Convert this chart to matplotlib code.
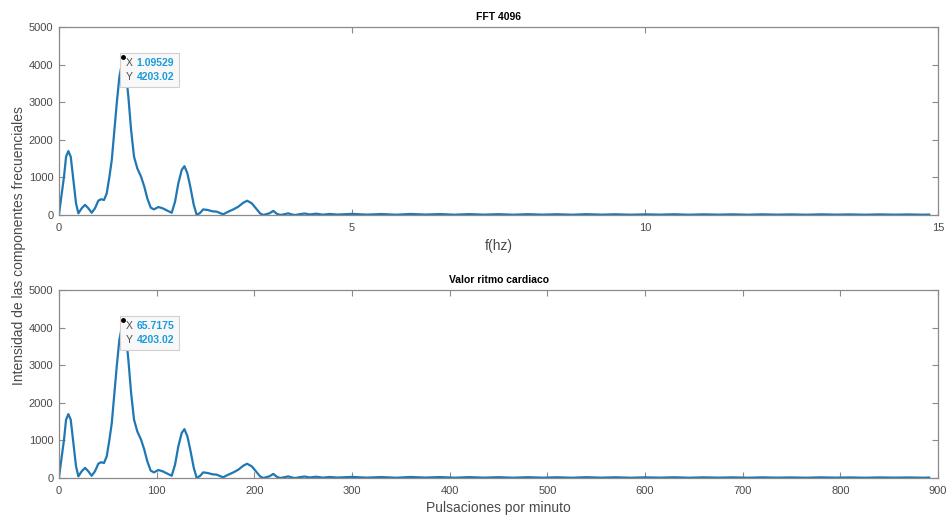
import matplotlib.pyplot as plt
from matplotlib.offsetbox import TextArea, HPacker, VPacker, AnnotationBbox

plt.rcParams['font.family'] = ['Liberation Sans', 'DejaVu Sans']

# espectro (f en Hz, intensidad)
freq_hz = [
    0.0, 0.085, 0.12, 0.159, 0.2, 0.245, 0.29, 0.33, 0.387, 0.444, 0.5, 0.557,
    0.614, 0.67, 0.717, 0.768, 0.814, 0.86, 0.9, 0.94, 0.985, 1.03, 1.09529,
    1.138, 1.183, 1.23, 1.28, 1.336, 1.4, 1.456, 1.507, 1.565, 1.62, 1.695,
    1.77, 1.85, 1.923, 1.98, 2.036, 2.094, 2.14, 2.19, 2.24, 2.3, 2.35, 2.41,
    2.46, 2.54, 2.62, 2.69, 2.8, 2.89, 2.975, 3.06, 3.145, 3.21, 3.29, 3.36,
    3.43, 3.486, 3.59, 3.657, 3.71, 3.77, 3.86, 3.91, 3.97, 4.03, 4.1, 4.19,
    4.28, 4.39, 4.5, 4.62,
    4.75, 5.0, 5.25, 5.5, 5.75, 6.0, 6.25, 6.5, 6.75, 7.0, 7.25, 7.5, 7.75,
    8.0, 8.25, 8.5, 8.75, 9.0, 9.25, 9.5, 9.75, 10.0, 10.25, 10.5, 10.75,
    11.0, 11.25, 11.5, 11.75, 12.0, 12.25, 12.5, 12.75, 13.0, 13.25, 13.5,
    13.75, 14.0, 14.25, 14.5, 14.75, 14.85,
]
intensidad = [
    30, 1020, 1550, 1700, 1550, 930, 310, 45, 180, 270, 180, 60,
    180, 380, 420, 400, 577, 1020, 1460, 2170, 2970, 3680, 4203.02,
    3860, 3150, 2260, 1550, 1240, 1020, 750, 440, 195, 150, 213,
    178, 115, 60, 355, 843, 1200, 1300, 1110, 753, 266, 0, 60,
    150, 133, 98, 90, 19, 90, 150, 222, 328, 380, 310, 178,
    45, 0, 45, 110, 40, 0, 25, 45, 15, 0, 20, 40,
    15, 35, 10, 28,
    12, 30, 10, 26, 8, 28, 12, 25, 8, 24, 10, 22, 8,
    22, 10, 20, 8, 22, 10, 20, 8, 18, 10, 20, 8,
    18, 10, 18, 8, 18, 10, 16, 8, 18, 10, 16,
    8, 16, 10, 15, 8, 12,
]
bpm = [f * 60 for f in freq_hz]

peak_f = 1.09529
peak_bpm = 65.7175
peak_val = 4203.02

LINE = '#1f77b4'
GRIS = '#8a8a8a'
TEXTO = '#4a4a4a'
AZUL_TIP = '#1a9bdc'


def estilo(ax, xlim, xticks):
    ax.set_xlim(*xlim)
    ax.set_ylim(0, 5000)
    ax.set_xticks(xticks)
    ax.set_yticks(range(0, 5001, 1000))
    ax.tick_params(direction='in', length=4, width=0.8, colors=GRIS,
                   labelcolor=TEXTO, labelsize=8, top=True, right=True)
    ax.tick_params(axis='x', pad=6)
    ax.tick_params(axis='y', pad=4)
    for s in ax.spines.values():
        s.set_color(GRIS)
        s.set_linewidth(0.9)


def datatip(ax, x, y, xtxt, ytxt):
    ax.plot([x], [y], 'o', color='black', ms=2.5, zorder=5)
    filas = []
    for eje, valor in (('X', xtxt), ('Y', ytxt)):
        filas.append(HPacker(children=[
            TextArea(eje, textprops=dict(color=TEXTO, size=7.5)),
            TextArea(valor, textprops=dict(color=AZUL_TIP, size=7.5, weight='bold')),
        ], pad=0, sep=3, align='baseline'))
    caja = VPacker(children=filas, pad=0, sep=3, align='left')
    ab = AnnotationBbox(caja, (x, y), xycoords='data', xybox=(1.5, -0.5),
                        boxcoords='offset points', box_alignment=(0, 1),
                        frameon=True, pad=0.35,
                        bboxprops=dict(facecolor='#f8f8f8', edgecolor='#d0d0d0', lw=0.8))
    ax.add_artist(ab)


fig = plt.figure(figsize=(9.49, 5.16), dpi=100)
ax1 = fig.add_axes([0.0622, 0.5833, 0.9262, 0.3643])
ax2 = fig.add_axes([0.0622, 0.0736, 0.9262, 0.3643])

ax1.plot(freq_hz, intensidad, color=LINE, lw=1.6)
estilo(ax1, (0, 15), [0, 5, 10, 15])
ax1.set_title('FFT 4096', fontsize=7.5, fontweight='bold', pad=5)
ax1.set_xlabel('f(hz)', fontsize=10, color=TEXTO, labelpad=4)
datatip(ax1, peak_f, peak_val, '1.09529', '4203.02')

ax2.plot(bpm, intensidad, color=LINE, lw=1.6)
estilo(ax2, (0, 900), list(range(0, 901, 100)))
ax2.set_title('Valor ritmo cardiaco', fontsize=7.5, fontweight='bold', pad=5)
ax2.set_xlabel('Pulsaciones por minuto', fontsize=10, color=TEXTO, labelpad=3)
datatip(ax2, peak_bpm, peak_val, '65.7175', '4203.02')

fig.text(0.02, 0.525, 'Intensidad de las componentes frecuenciales',
         rotation=90, ha='center', va='center', fontsize=10, color=TEXTO)

fig.savefig('out.png', dpi=100)
plt.close(fig)
